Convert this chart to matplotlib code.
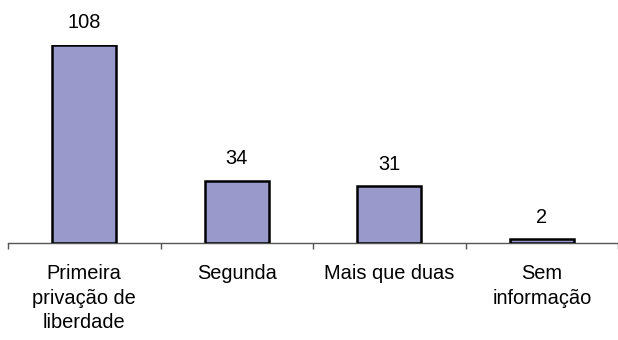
import matplotlib
matplotlib.use("Agg")
import matplotlib.pyplot as plt

categories = ["Primeira\nprivação de\nliberdade", "Segunda", "Mais que duas", "Sem\ninformação"]
values = [108, 34, 31, 2]

plt.rcParams['font.family'] = ['Liberation Sans', 'DejaVu Sans']

fig = plt.figure(figsize=(6.18, 3.40), dpi=100)
ax = fig.add_axes([8/618, 1 - 243/340, 610/618, (243 - 45)/340])

x = list(range(len(categories)))
ax.bar(x, values, width=0.42, color='#9999CC', edgecolor='black', linewidth=1.8, zorder=3)

for xi, v in zip(x, values):
    ax.annotate(str(v), (xi, v), xytext=(0, 9), textcoords='offset points',
                ha='center', va='bottom', fontsize=14.4, clip_on=False)

ax.set_xlim(-0.5, len(categories) - 0.5)
ax.set_ylim(0, 108)

for s in ['top', 'right', 'left']:
    ax.spines[s].set_visible(False)
ax.spines['bottom'].set_color('#555555')
ax.spines['bottom'].set_linewidth(1.0)
ax.set_yticks([])

ax.set_xticks(x)
ax.set_xticklabels(categories, fontsize=14.4, linespacing=1.38)
ax.tick_params(axis='x', which='major', length=0, pad=15)
ax.set_xticks([i - 0.5 for i in range(len(categories) + 1)], minor=True)
ax.tick_params(axis='x', which='minor', length=4, color='#555555', width=1.0)

fig.savefig("out.png", dpi=100)
